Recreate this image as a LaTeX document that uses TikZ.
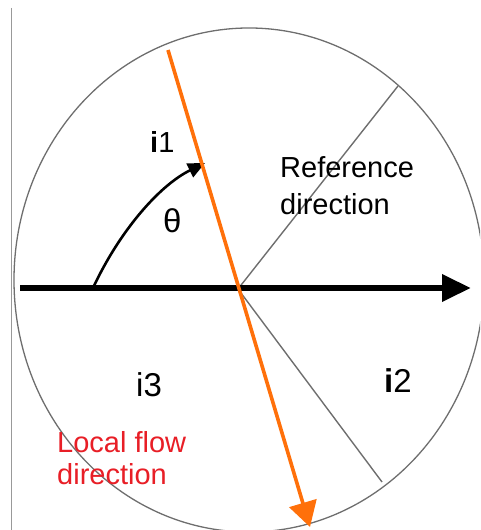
\documentclass[tikz,border=0pt]{standalone}
\usepackage{fontspec}
\setmainfont{Liberation Sans}
\usetikzlibrary{arrows.meta}
\definecolor{flowor}{RGB}{255,112,10}
\definecolor{lblred}{RGB}{232,30,38}
\definecolor{rimgray}{RGB}{110,110,110}
\tikzset{
  lbl/.style={inner sep=0pt, anchor=base west, font=\fontsize{29}{37}\selectfont},
  biglbl/.style={inner sep=0pt, anchor=base west, font=\fontsize{33}{37}\selectfont},
  rim/.style={draw=rimgray, line width=1.3pt},
  zone/.style={draw=rimgray, line width=1.4pt},
}
\begin{document}
\begin{tikzpicture}[x=1pt,y=1pt]
\useasboundingbox (0,0) rectangle (480,530);
\begin{scope}
\clip (0,0) rectangle (480,530);
% frame line at left
\draw[draw=gray!80, line width=1.5pt] (11.5,522) -- (11.5,0);
% circle
\draw[rim] (249,250) ellipse [x radius=235, y radius=252];
\end{scope}
% points
\coordinate (C) at (238,241);
\coordinate (H0) at (20,242);
\coordinate (H1) at (471,242);
\coordinate (Z1) at (398,444);
\coordinate (Z2) at (382,48);
\coordinate (F0) at (168,480);
\coordinate (F1) at (310,3);
\coordinate (A0) at (93,242);
\coordinate (A1) at (205,367);
% zone boundaries
\draw[zone] (C) -- (Z1);
\draw[zone] (C) -- (Z2);
% reference axis
\draw[line width=6.5pt, -{Triangle[length=29pt,width=26pt]}] (H0) -- (H1);
% angle arrow
\draw[line width=2.6pt, -{Triangle[length=17pt,width=15pt]}] (A0) .. controls (120,300) and (160,345) .. (A1);
% local flow direction
\draw[flowor, line width=3.6pt, -{Triangle[length=25pt,width=28pt]}] (F0) -- (F1);
% labels
\node[lbl] (ti1) at (150,377) {\textbf{i}1};
\node[biglbl] (tth) at (163,297) {θ};
\node[lbl] (tref) at (280,352) {Reference};
\node[lbl] (tdir) at (280,315) {direction};
\node[biglbl] (ti3) at (136,133) {i3};
\node[biglbl] (ti2) at (384,137) {\textbf{i}2};
\node[lbl, text=lblred] (tloc) at (57,77) {Local flow};
\node[lbl, text=lblred] (tfd) at (57,45) {direction};
\end{tikzpicture}
\end{document}
